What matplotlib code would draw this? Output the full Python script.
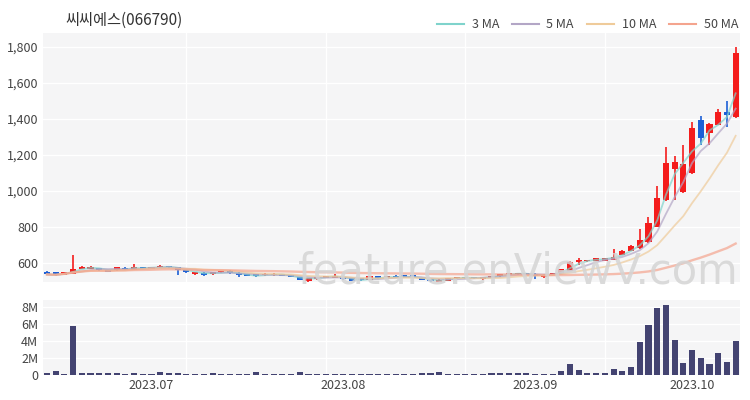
import numpy as np
import pandas as pd
import matplotlib.pyplot as plt
from matplotlib.lines import Line2D

plt.rcParams['font.family'] = ['Noto Sans CJK KR', 'DejaVu Sans']

# 씨씨에스 daily candles, mid June ~ mid Oct 2023
opens = [550, 548, 535, 540, 568, 568, 572, 560, 558, 574,
         563, 574, 567, 575, 583, 578, 560, 537, 546, 537,
         547, 556, 546, 539, 537, 532, 532, 539, 533, 522,
         497, 508, 517, 519, 522, 514, 514, 506, 525, 517,
         530, 529, 528, 517, 511, 492, 502, 514, 519, 517,
         508, 517, 525, 535, 536, 541, 540, 524, 535, 546,
         557, 606, 609, 611, 613, 617, 644, 667, 681, 715,
         802, 950, 1120, 996, 1098, 1394, 1320, 1367, 1437, 1409]
highs = [553, 551, 552, 644, 582, 585, 574, 562, 580, 576,
         594, 576, 578, 590, 585, 580, 562, 550, 548, 551,
         555, 558, 548, 541, 539, 543, 542, 541, 535, 524,
         516, 524, 527, 538, 524, 516, 516, 528, 527, 527,
         533, 531, 532, 519, 513, 508, 519, 524, 522, 520,
         524, 530, 540, 545, 545, 543, 542, 536, 544, 568,
         609, 626, 614, 628, 628, 676, 672, 700, 789, 857,
         1028, 1243, 1194, 1256, 1385, 1417, 1376, 1457, 1500, 1802]
lows = [532, 530, 533, 536, 565, 566, 556, 548, 556, 561,
        560, 565, 565, 573, 573, 535, 544, 535, 525, 535,
        545, 541, 522, 526, 524, 530, 530, 526, 520, 503,
        490, 506, 515, 517, 506, 500, 500, 504, 512, 515,
        520, 521, 521, 504, 495, 486, 500, 512, 512, 511,
        506, 515, 523, 533, 534, 534, 513, 515, 533, 544,
        555, 589, 605, 609, 611, 615, 642, 665, 678, 710,
        798, 945, 950, 990, 1095, 1255, 1255, 1365, 1354, 1405]
closes = [536, 532, 550, 568, 576, 575, 560, 550, 575, 564,
          578, 568, 574, 585, 576, 558, 548, 548, 532, 549,
          553, 545, 532, 528, 526, 541, 538, 528, 522, 506,
          514, 522, 525, 528, 508, 502, 503, 525, 514, 525,
          522, 523, 524, 506, 497, 506, 517, 522, 515, 514,
          522, 528, 536, 542, 542, 536, 528, 532, 542, 565,
          604, 617, 611, 626, 626, 635, 668, 696, 728, 820,
          959, 1157, 1163, 1150, 1348, 1292, 1370, 1441, 1422, 1765]
volume_m = [0.25, 0.5, 0.12, 5.7, 0.28, 0.28, 0.2, 0.22, 0.22, 0.15,
            0.22, 0.12, 0.15, 0.35, 0.2, 0.25, 0.12, 0.15, 0.12, 0.2,
            0.15, 0.15, 0.15, 0.15, 0.32, 0.15, 0.15, 0.15, 0.15, 0.32,
            0.15, 0.14, 0.14, 0.15, 0.12, 0.12, 0.14, 0.15, 0.12, 0.12,
            0.12, 0.12, 0.14, 0.28, 0.28, 0.38, 0.15, 0.14, 0.14, 0.14,
            0.12, 0.25, 0.25, 0.25, 0.2, 0.25, 0.15, 0.14, 0.14, 0.47,
            1.25, 0.6, 0.25, 0.25, 0.25, 0.7, 0.47, 0.95, 3.9, 5.85,
            7.85, 8.2, 4.1, 1.4, 2.95, 2.0, 1.25, 2.55, 1.57, 4.0]

tick_pos = [12, 34, 56, 74]
tick_labels = ['2023.07', '2023.08', '2023.09', '2023.10']
grid_pos = [16, 32, 48, 64]

ma_windows = [3, 5, 10, 50]
ma_colors = ['#7fd3cc', '#b3a6c6', '#efcb9a', '#f4a48e']

df = pd.DataFrame({'open': opens, 'high': highs, 'low': lows, 'close': closes, 'vol': volume_m})
x = np.arange(len(df))
up = df['close'] >= df['open']
col = np.where(up, '#f41c1c', '#1c5fd6')

fig = plt.figure(figsize=(7.5, 4), dpi=100)
ax = fig.add_axes([43/750, 1-282/400, 697/750, (282-33)/400])
axv = fig.add_axes([43/750, 1-376/400, 697/750, (376-300)/400], sharex=ax)

for a in (ax, axv):
    a.set_facecolor('#f5f5f6')
    for s in a.spines.values():
        s.set_visible(False)
    a.tick_params(length=0, labelsize=9, colors='#444444')
    a.grid(axis='y', color='white', linewidth=1)
    for g in grid_pos:
        a.axvline(g, color='white', linewidth=1, zorder=0.5)
    a.set_axisbelow(True)

# candles
body_lo = df[['open', 'close']].min(axis=1)
body_h = (df['close'] - df['open']).abs().clip(lower=8)
ax.vlines(x, df['low'], df['high'], colors=col, linewidth=1.2, zorder=2)
ax.bar(x, body_h, bottom=body_lo, width=0.7, color=col, zorder=2)

# moving averages
for w, c in zip(ma_windows, ma_colors):
    ma = df['close'].rolling(w, min_periods=1).mean()
    ax.plot(x, ma, color=c, linewidth=1.7 if w == 50 else 1.3, alpha=0.7, zorder=3)

ax.set_ylim(494, 1878)
ax.set_yticks([600, 800, 1000, 1200, 1400, 1600, 1800])
ax.set_yticklabels(['{:,}'.format(v) for v in [600, 800, 1000, 1200, 1400, 1600, 1800]])
ax.set_xlim(-0.45, 79.5)
plt.setp(ax.get_xticklabels(), visible=False)

axv.bar(x, df['vol'], width=0.7, color='#434371', zorder=2)
axv.set_ylim(-0.1, 8.8)
axv.set_yticks([0, 2, 4, 6, 8])
axv.set_yticklabels(['0', '2M', '4M', '6M', '8M'])
axv.set_xticks(tick_pos)
axv.set_xticklabels(tick_labels)
axv.tick_params(axis='x', pad=2)

fig.text(65/750, 1-20/400, '씨씨에스(066790)', fontsize=11, color='#333333', va='center', ha='left')

handles = [Line2D([0], [0], color=c, linewidth=1.5) for c in ma_colors]
fig.legend(handles, ['3 MA', '5 MA', '10 MA', '50 MA'], loc='center right',
           bbox_to_anchor=(738/750, 1-25/400), ncol=4, frameon=False, fontsize=9,
           handlelength=2.2, handletextpad=0.6, columnspacing=1.0, labelcolor='#444444',
           borderaxespad=0, borderpad=0)

fig.text(518/750, 1-272/400, 'feature.enViewV.com', fontsize=30, color='#d4d4d4',
         alpha=0.85, ha='center', va='center', family='DejaVu Sans')

fig.savefig('out.png', dpi=100, facecolor='white')
